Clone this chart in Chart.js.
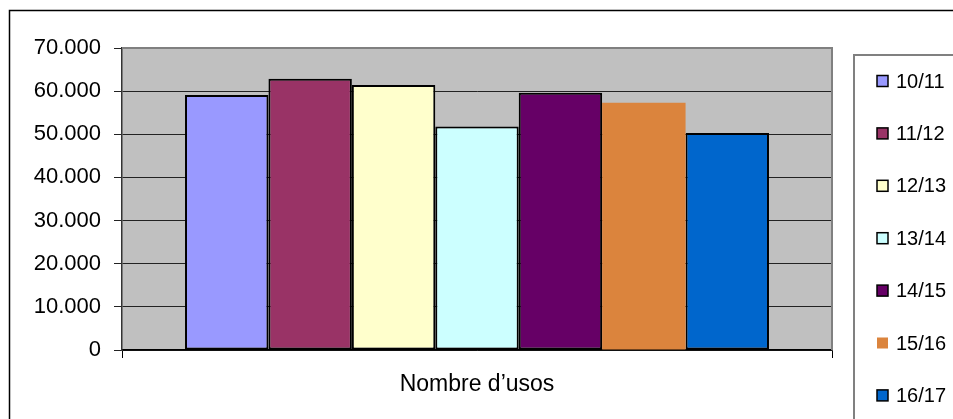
<!DOCTYPE html>
<html>
<head>
<meta charset="utf-8">
<script src="https://cdn.jsdelivr.net/npm/chart.js@4/dist/chart.umd.min.js"></script>
<style>
  html, body { margin: 0; padding: 0; background: #fff; }
  #wrap { width: 953px; height: 419px; position: relative; }
</style>
</head>
<body>
<div id="wrap"><canvas id="usosChart"></canvas></div>
<script>
// data
const categories = ["Nombre d\u2019usos"];
const seasons = ["10/11", "11/12", "12/13", "13/14", "14/15", "15/16", "16/17"];
const usos = [59100, 62900, 61400, 51800, 59600, 57300, 50300];
const colors = ["#9999FF", "#993366", "#FFFFCC", "#CCFFFF", "#660066", "#DB843D", "#0066CC"];
const borders = [2, 2, 2, 2, 2, 0, 2];
const yTicks = [0, 10000, 20000, 30000, 40000, 50000, 60000, 70000];

const FONT = "'Liberation Sans', Arial, sans-serif";

function fmt(v) {
  return String(v).replace(/\B(?=(\d{3})+(?!\d))/g, ".");
}

// grey plot background, plot border, outer frame and the boxed legend
const excelLook = {
  id: "excelLook",
  beforeDraw(chart) {
    const { ctx, chartArea: a } = chart;
    ctx.save();
    ctx.fillStyle = "#C0C0C0";
    ctx.fillRect(a.left, a.top, a.right - a.left, a.bottom - a.top);
    ctx.restore();
  },
  afterDraw(chart) {
    const { ctx, chartArea: a } = chart;
    ctx.save();
    // plot border top/right
    ctx.strokeStyle = "#808080";
    ctx.lineWidth = 2;
    ctx.beginPath();
    ctx.moveTo(a.left, a.top);
    ctx.lineTo(a.right, a.top);
    ctx.lineTo(a.right, a.bottom);
    ctx.stroke();

    // outer frame
    ctx.strokeStyle = "#000";
    ctx.lineWidth = 1.5;
    ctx.strokeRect(9.5, 10.5, 1000, 1000);

    // legend box
    ctx.strokeStyle = "#808080";
    ctx.lineWidth = 2;
    ctx.strokeRect(854, 55, 200, 500);

    ctx.font = "20px " + FONT;
    ctx.textBaseline = "middle";
    ctx.textAlign = "left";
    chart.data.datasets.forEach((ds, i) => {
      const y = 81 + i * 52.4;
      ctx.fillStyle = ds.backgroundColor;
      ctx.fillRect(877, y - 5.5, 11, 11);
      if (ds.borderWidth) {
        ctx.strokeStyle = "#000";
        ctx.lineWidth = 1.5;
        ctx.strokeRect(877, y - 5.5, 11, 11);
      }
      ctx.fillStyle = "#000";
      ctx.fillText(ds.label, 896, y + 1);
    });
    ctx.restore();
  }
};

const ctx = document.getElementById("usosChart").getContext("2d");
new Chart(ctx, {
  type: "bar",
  data: {
    labels: categories,
    datasets: seasons.map((s, i) => ({
      label: s,
      data: [usos[i]],
      backgroundColor: colors[i],
      borderColor: "#000",
      borderWidth: borders[i],
      borderSkipped: false
    }))
  },
  options: {
    responsive: true,
    maintainAspectRatio: false,
    animation: false,
    devicePixelRatio: 1,
    layout: { padding: { top: 48, right: 121, bottom: 0, left: 0 } },
    datasets: { bar: { categoryPercentage: 0.8225, barPercentage: 1 } },
    plugins: {
      legend: { display: false },
      tooltip: { enabled: false }
    },
    scales: {
      x: {
        offset: true,
        afterFit: (s) => { s.height = 69; },
        grid: {
          display: true,
          offset: true,
          drawOnChartArea: false,
          drawTicks: true,
          tickLength: 8,
          color: "#000",
          lineWidth: 1
        },
        border: { display: true, color: "#000", width: 1.5 },
        ticks: {
          color: "#000",
          padding: 13,
          font: { family: FONT, size: 23 }
        }
      },
      y: {
        min: 0,
        max: 70000,
        afterFit: (s) => { s.width = 122; },
        afterBuildTicks: (s) => { s.ticks = yTicks.map(v => ({ value: v })); },
        grid: {
          color: (c) => (c.tick && c.tick.value === 70000 ? "#808080" : "#222"),
          tickColor: "#222",
          lineWidth: 1,
          tickLength: 8
        },
        border: { display: true, color: "#333", width: 1.5 },
        ticks: {
          color: "#000",
          padding: 13,
          font: { family: FONT, size: 22 },
          callback: (v) => fmt(v)
        }
      }
    }
  },
  plugins: [excelLook]
});
</script>
</body>
</html>
